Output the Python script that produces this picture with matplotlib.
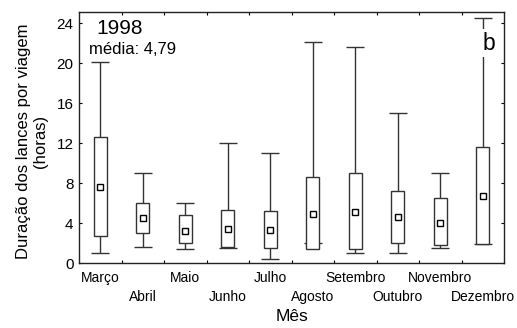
import matplotlib
matplotlib.use('Agg')
import matplotlib.pyplot as plt
from matplotlib.patches import Rectangle

plt.rcParams['font.family'] = ['Liberation Sans', 'DejaVu Sans']

meses = ['Março', 'Abril', 'Maio', 'Junho', 'Julho', 'Agosto',
         'Setembro', 'Outubro', 'Novembro', 'Dezembro']
whis_max = [20.1, 9.0, 6.0, 12.0, 11.0, 22.1, 21.6, 15.0, 9.0, 24.5]
caixa_sup = [12.6, 6.0, 4.8, 5.3, 5.2, 8.6, 9.0, 7.2, 6.5, 11.6]
caixa_inf = [2.7, 3.0, 2.0, 1.6, 1.5, 1.4, 1.4, 2.0, 1.8, 1.9]
whis_min = [1.0, 1.6, 1.4, 1.5, 0.45, 2.0, 1.0, 1.0, 1.5, 1.9]
medias = [7.6, 4.5, 3.2, 3.4, 3.3, 4.9, 5.1, 4.6, 4.0, 6.7]

cor = '#333333'
larg_caixa = 0.3
larg_cap = 0.42

fig = plt.figure(figsize=(5.17, 3.28), dpi=100)
ax = fig.add_axes([0.1528, 0.198, 0.8221, 0.7654])

for i in range(len(meses)):
    # linhas dos bigodes
    ax.vlines(i, caixa_sup[i], whis_max[i], color=cor, lw=1.0, zorder=1)
    if whis_min[i] < caixa_inf[i]:
        ax.vlines(i, whis_min[i], caixa_inf[i], color=cor, lw=1.0, zorder=1)
    ax.hlines([whis_max[i], whis_min[i]], i - larg_cap / 2, i + larg_cap / 2,
              color=cor, lw=1.0, zorder=1)
    # caixa
    ax.add_patch(Rectangle((i - larg_caixa / 2, caixa_inf[i]), larg_caixa,
                           caixa_sup[i] - caixa_inf[i], facecolor='white',
                           edgecolor=cor, lw=1.0, zorder=2))

ax.plot(range(len(meses)), medias, 's', ms=5, mfc='white', mec='black',
        mew=1.0, ls='none', zorder=3)

ax.set_xlim(-0.5, len(meses) - 0.5)
ax.set_ylim(0, 25.1)
ax.set_yticks([0, 4, 8, 12, 16, 20, 24])

# rótulos alternados (meses ímpares numa segunda linha)
ax.set_xticks(range(len(meses)), minor=True)
ax.set_xticklabels(meses, minor=True)
ax.set_xticks([i + 0.5 for i in range(len(meses) - 1)])
ax.set_xticklabels([])
ax.tick_params(axis='x', which='minor', length=0, pad=6, labelsize=10)
for i, t in enumerate(ax.xaxis.get_minor_ticks()):
    if i % 2 == 1:
        t.set_pad(19.7)
ax.tick_params(axis='both', which='major', direction='in', length=2.5,
               width=0.8, top=True, right=True, labelsize=11)
ax.tick_params(axis='y', pad=4)

for s in ax.spines.values():
    s.set_color('#222222')
    s.set_linewidth(1.0)

ax.set_ylabel('Duração dos lances por viagem\n(horas)', fontsize=12,
              linespacing=1.15)
ax.yaxis.set_label_coords(-0.073, 0.484)
ax.set_xlabel('Mês', fontsize=12.5, labelpad=3)

ax.text(0.46, 23.5, '1998', fontsize=15, ha='center', va='center')
ax.text(0.75, 21.4, 'média: 4,79', fontsize=12, ha='center', va='center')
ax.text(9.15, 22.0, 'b', fontsize=16.5, ha='center', va='center', zorder=4,
        bbox=dict(facecolor='white', edgecolor='none', pad=1.5))

fig.savefig('out.png', dpi=100)
